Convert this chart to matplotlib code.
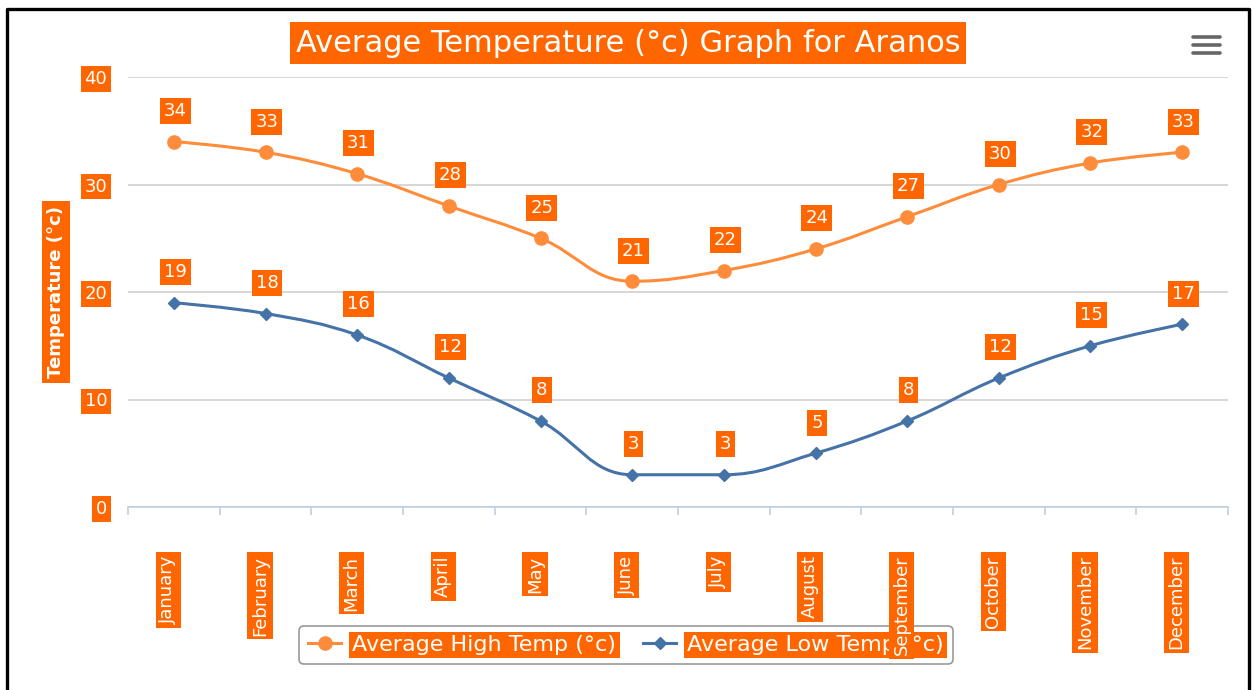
import numpy as np
import matplotlib.pyplot as plt
from matplotlib.path import Path
from matplotlib.patches import PathPatch
from matplotlib.lines import Line2D

months = ["January", "February", "March", "April", "May", "June",
          "July", "August", "September", "October", "November", "December"]
high_temp = [34, 33, 31, 28, 25, 21, 22, 24, 27, 30, 32, 33]
low_temp = [19, 18, 16, 12, 8, 3, 3, 5, 8, 12, 15, 17]
y_ticks = [0, 10, 20, 30, 40]
title = "Average Temperature (°c) Graph for Aranos"
y_label = "Temperature (°c)"
series_names = ["Average High Temp (°c)", "Average Low Temp (°c)"]

BOX = "#FF6600"
HIGH = "#FF8C3A"
LOW = "#4572A7"

plt.rcParams["font.family"] = ["DejaVu Sans"]

W, H = 1252, 690
fig = plt.figure(figsize=(W / 100, H / 100), dpi=100)
ax = fig.add_axes([128 / W, 1 - 507 / H, 1100 / W, 430 / H])
ax.set_xlim(-0.5, len(months) - 0.5)
ax.set_ylim(0, 40)


def box(pad=0.15):
    return dict(boxstyle="square,pad=%s" % pad, fc=BOX, ec="none")


# highcharts like spline, worked out in pixel space
def spline_path(xs, ys, smoothing=1.5):
    pts = ax.transData.transform(np.column_stack([xs, ys]))
    n = len(pts)
    left = [None] * n
    right = [None] * n
    for i in range(1, n - 1):
        px, py = pts[i]
        lx, ly = pts[i - 1]
        nx, ny = pts[i + 1]
        lcx = (smoothing * px + lx) / (smoothing + 1)
        lcy = (smoothing * py + ly) / (smoothing + 1)
        rcx = (smoothing * px + nx) / (smoothing + 1)
        rcy = (smoothing * py + ny) / (smoothing + 1)
        dl = np.hypot(lcx - px, lcy - py)
        dr = np.hypot(rcx - px, rcy - py)
        la = np.arctan2(lcy - py, lcx - px)
        ra = np.arctan2(rcy - py, rcx - px)
        ja = np.pi / 2 + (la + ra) / 2
        if abs(la - ja) > np.pi / 2:
            ja -= np.pi
        lcx = px + np.cos(ja) * dl
        lcy = py + np.sin(ja) * dl
        rcx = px + np.cos(np.pi + ja) * dr
        rcy = py + np.sin(np.pi + ja) * dr
        # no overshoot
        if lcy > ly and lcy > py:
            lcy = max(ly, py)
            rcy = 2 * py - lcy
        elif lcy < ly and lcy < py:
            lcy = min(ly, py)
            rcy = 2 * py - lcy
        if rcy > ny and rcy > py:
            rcy = max(ny, py)
            lcy = 2 * py - rcy
        elif rcy < ny and rcy < py:
            rcy = min(ny, py)
            lcy = 2 * py - rcy
        left[i] = (lcx, lcy)
        right[i] = (rcx, rcy)
    verts = [pts[0]]
    codes = [Path.MOVETO]
    for i in range(1, n):
        c1 = right[i - 1] if right[i - 1] is not None else pts[i - 1]
        c2 = left[i] if left[i] is not None else pts[i]
        verts += [c1, c2, pts[i]]
        codes += [Path.CURVE4] * 3
    verts = ax.transData.inverted().transform(np.array(verts))
    return Path(verts, codes)


x = np.arange(len(months))
for vals, col, mk, ms in [(high_temp, HIGH, "o", 9.5), (low_temp, LOW, "D", 6.5)]:
    ax.add_patch(PathPatch(spline_path(x, vals), fc="none", ec=col, lw=2.2,
                           capstyle="round", joinstyle="round", zorder=3))
    ax.plot(x, vals, ls="none", marker=mk, ms=ms, color=col, zorder=4)
    for i, v in enumerate(vals):
        ax.annotate(str(v), (i, v), xytext=(1, 22), textcoords="offset points",
                    ha="center", va="center", color="white", fontsize=13,
                    bbox=box(0.22), zorder=5)

# axes look
for s in ["top", "right", "left"]:
    ax.spines[s].set_visible(False)
ax.spines["bottom"].set_color("#C0D0E0")
ax.spines["bottom"].set_linewidth(1.2)
ax.set_axisbelow(True)
ax.yaxis.grid(True, color="#D0D0D0", lw=1.2)
ax.set_yticks(y_ticks)
ax.set_yticklabels([str(t) for t in y_ticks])
ax.tick_params(axis="y", length=0, pad=15, labelsize=13, labelcolor="white")
for t in ax.get_yticklabels():
    t.set_bbox(box(0.2))
ax.set_xticks([])
ax.set_xticks(np.arange(-0.5, len(months)), minor=True)
ax.tick_params(axis="x", which="minor", length=6, width=1.2, color="#C0D0E0",
               direction="out", labelbottom=False)

# month labels
for i, m in enumerate(months):
    ax.annotate(m, (i, 0), xytext=(-4, -35), textcoords="offset points",
                rotation=90, ha="center", va="top", color="white", fontsize=13,
                bbox=box(0.2), annotation_clip=False, zorder=6)

fig.text(628 / W, 1 - 43 / H, title, ha="center", va="center", fontsize=22,
         color="white", bbox=box(0.2))
fig.text(56 / W, 1 - 292 / H, y_label, rotation=90, ha="center", va="center",
         fontsize=13, fontweight="bold", color="white", bbox=box(0.3))

handles = [Line2D([], [], color=HIGH, lw=2.2, marker="o", ms=9.5),
           Line2D([], [], color=LOW, lw=2.2, marker="D", ms=6.5)]
leg = fig.legend(handles, series_names, loc="center",
                 bbox_to_anchor=(626 / W, 1 - 645 / H), ncol=2, fontsize=16,
                 frameon=True, fancybox=True, edgecolor="#999999", framealpha=1,
                 handlelength=1.5, handletextpad=0.5, columnspacing=1.2,
                 borderpad=0.4)
leg.get_frame().set_linewidth(1.2)
leg.set_zorder(-1)
for t in leg.get_texts():
    t.set_color("white")
    t.set_bbox(box(0.15))

# menu button
for yy in [37, 45, 53]:
    fig.add_artist(Line2D([1193 / W, 1220 / W], [1 - yy / H, 1 - yy / H],
                          color="#666666", lw=2.6, solid_capstyle="round"))

# outer frame
fig.add_artist(Line2D([7 / W, 7 / W, 1249 / W, 1249 / W],
                      [0, 1 - 9 / H, 1 - 9 / H, 0], color="black", lw=2.4))

fig.savefig("out.png", dpi=100)
